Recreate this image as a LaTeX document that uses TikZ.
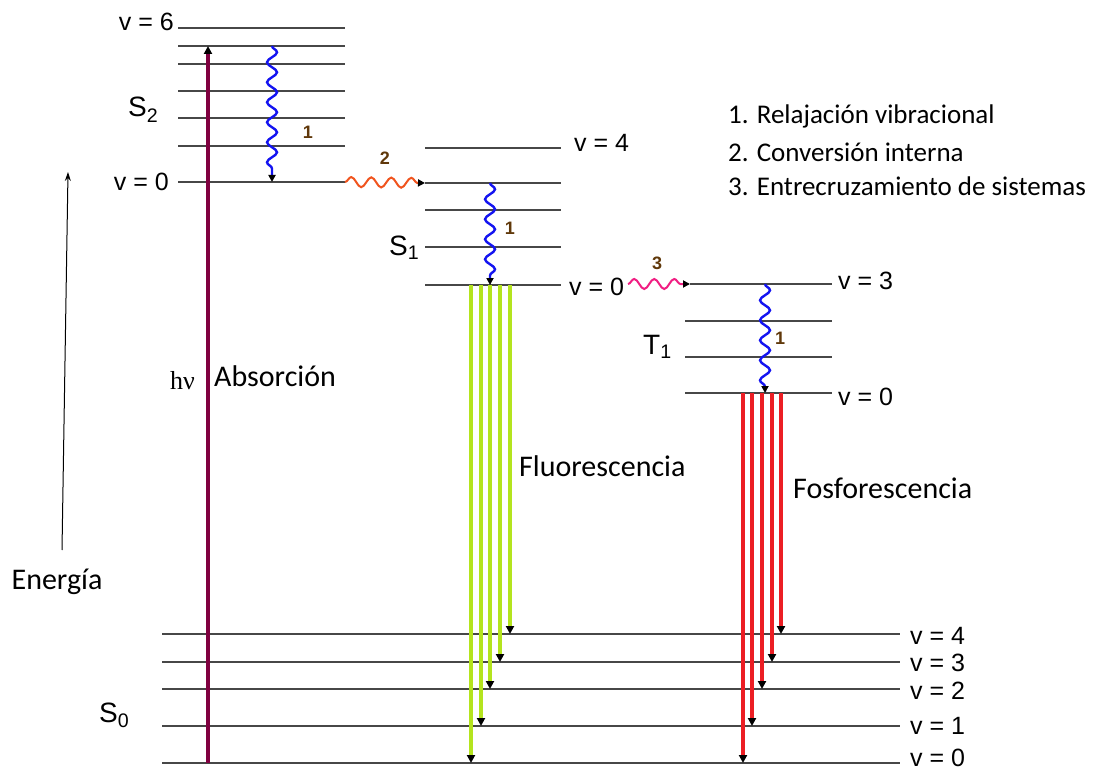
\documentclass[tikz,border=0pt]{standalone}
\usepackage{fontspec}
\setmainfont{Carlito}
\newfontfamily\arialfont{Liberation Sans}
\newfontfamily\timesfont{Liberation Serif}
\usepackage{xcolor}
\usepackage{tikz}
\usetikzlibrary{arrows.meta,decorations.pathmorphing}

\definecolor{absorbcol}{RGB}{128,0,64}
\definecolor{fluocol}{RGB}{180,228,30}
\definecolor{phoscol}{RGB}{236,30,36}
\definecolor{relaxcol}{RGB}{20,20,240}
\definecolor{convcol}{RGB}{240,84,30}
\definecolor{crosscol}{RGB}{240,30,130}
\definecolor{numcol}{RGB}{96,56,10}

\tikzset{
  lvl/.style={line width=1.5pt, draw=black!72},
  vlab/.style={font=\arialfont\fontsize{25}{28}\selectfont, inner sep=0pt},
  statelab/.style={font=\arialfont\fontsize{28}{30}\selectfont, inner sep=0pt, anchor=base west},
  numlab/.style={font=\arialfont\bfseries\fontsize{18}{20}\selectfont, text=numcol, inner sep=0pt},
  biglab/.style={font=\fontsize{30}{34}\selectfont, inner sep=0pt, anchor=west},
  leglab/.style={font=\fontsize{27}{32}\selectfont, inner sep=0pt, anchor=west},
  blacktip/.style={-{Triangle[color=black,length=8pt,width=8pt]}},
  absorb/.style={line width=4pt, draw=absorbcol, blacktip},
  fluo/.style={line width=4pt, draw=fluocol, blacktip},
  phos/.style={line width=4pt, draw=phoscol, blacktip},
  wavy/.style={decorate, decoration={snake, amplitude=5pt, segment length=20pt, post length=6pt},
    line width=2.4pt, -{Triangle[color=black,length=7pt,width=7pt]}}
}

\begin{document}
\begin{tikzpicture}[x=1pt, y=-1pt]
  \useasboundingbox (0,0) rectangle (1098,770);
  % vibrational levels
  \foreach \v/\y in {6/28,5/46,4/64,3/91,2/118,1/146,0/182}
    \draw[lvl] (178,\y) coordinate (s2l\v) -- (345,\y) coordinate (s2r\v);
  \foreach \v/\y in {4/148,3/183,2/210,1/247,0/285}
    \draw[lvl] (425,\y) coordinate (s1l\v) -- (561,\y) coordinate (s1r\v);
  \draw[lvl] (690,284) coordinate (t1l3) -- (832,284) coordinate (t1r3);
  \foreach \v/\y in {2/321,1/357,0/393}
    \draw[lvl] (685,\y) coordinate (t1l\v) -- (832,\y) coordinate (t1r\v);
  \foreach \v/\y/\dy in {0/763/5,1/726/0,2/689/-2,3/662/-1,4/634/-2}{
    \draw[lvl] (162,\y) coordinate (s0l\v) -- (900,\y) coordinate (s0r\v);
    \node[vlab, anchor=west] (s0v\v) at ([xshift=10, yshift=\dy]s0r\v) {v = \v};
  }

  % level labels
  \node[vlab, anchor=east] (s2hi) at ([xshift=-4, yshift=6]s2l6) {v = 6};
  \node[vlab, anchor=east] (s2lo) at ([xshift=-9]s2l0) {v = 0};
  \node[vlab, anchor=west] (s1hi) at ([xshift=13, yshift=5]s1r4) {v = 4};
  \node[vlab, anchor=west] (s1lo) at ([xshift=8, yshift=-2]s1r0) {v = 0};
  \node[vlab, anchor=west] (t1hi) at ([xshift=6, yshift=3]t1r3) {v = 3};
  \node[vlab, anchor=west] (t1lo) at ([xshift=6, yshift=-4]t1r0) {v = 0};
  \node[statelab] (s2name) at (128,117) {S\textsubscript{2}};
  \node[statelab] (s1name) at (389,255) {S\textsubscript{1}};
  \node[statelab] (t1name) at (643,354) {T\textsubscript{1}};
  \node[statelab] (s0name) at (99,722) {S\textsubscript{0}};

  % energy axis
  \coordinate (ebot) at (62,550);
  \coordinate (etop) at (68,172);
  \draw[line width=1pt, -{Stealth[length=9pt,width=6pt]}] (ebot) -- (etop);
  \node[biglab, anchor=center] (energy) at (57,582) {Energía};

  % absorption
  \draw[absorb] (208,0 |- s0l0) -- (208,0 |- s2l5);
  \node[font=\timesfont\fontsize{26}{28}\selectfont, inner sep=0pt, anchor=east] (hnu) at (195,381) {hν};
  \node[biglab] (abs) at (214,376) {Absorción};

  % non-radiative steps
  \draw[wavy, draw=relaxcol] (272,0 |- s2l5) -- (272,0 |- s2l0);
  \draw[wavy, draw=relaxcol] (490,0 |- s1l3) -- (490,0 |- s1l0);
  \draw[wavy, draw=relaxcol] (765,0 |- t1l3) -- (765,0 |- t1l0);
  \draw[wavy, draw=convcol, line width=2pt] (s2r0) -- (s1l3);
  \coordinate (icstart) at (628,284);
  \draw[wavy, draw=crosscol, line width=2pt] (icstart) -- (t1l3);
  \node[numlab] (n1a) at (308,132) {1};
  \node[numlab] (n1b) at (510,228) {1};
  \node[numlab] (n1c) at (780,338) {1};
  \node[numlab] (n2) at (385,158) {2};
  \node[numlab] (n3) at (657,263) {3};

  % radiative decay
  \foreach \x/\v in {471/0,481/1,490/2,500/3,510/4}
    \draw[fluo] (\x,0 |- s1l0) -- (\x,0 |- s0l\v);
  \foreach \x/\v in {743/0,752/1,762/2,772/3,781/4}
    \draw[phos] (\x,0 |- t1l0) -- (\x,0 |- s0l\v);
  \node[biglab] (fluotxt) at (519,466) {Fluorescencia};
  \node[biglab] (phostxt) at (793,488) {Fosforescencia};

  % legend
  \node[leglab] (leg1) at (728,116) {1. Relajación vibracional};
  \node[leglab] (leg2) at (728,152) {2. Conversión interna};
  \node[leglab] (leg3) at (728,186) {3. Entrecruzamiento de sistemas};
\end{tikzpicture}
\end{document}
